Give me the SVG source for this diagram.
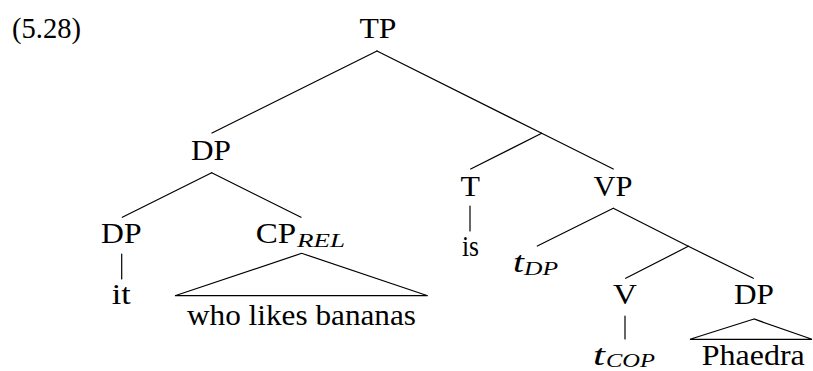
<svg xmlns="http://www.w3.org/2000/svg" width="813" height="371" viewBox="0 0 813 371" font-family="'Liberation Serif','DejaVu Serif',serif">
<style>
text{font-family:"Liberation Serif","DejaVu Serif",serif;font-size:28.5px;fill:#000}
.c{text-anchor:middle}
.i{font-style:italic}
.s{font-size:19px;font-style:italic}
.e{stroke:#000;stroke-width:1.2;fill:none;stroke-linecap:round}
</style>
<rect width="813" height="371" fill="#fff"/>
<text id="exnum" x="12" y="38" textLength="69" lengthAdjust="spacingAndGlyphs">(5.28)</text>
<g id="connectors" class="e">
<line x1="377" y1="51" x2="212" y2="133"/>
<line x1="377" y1="51" x2="541.7" y2="133.3"/>
<line x1="541.7" y1="133.3" x2="470.7" y2="169"/>
<line x1="541.7" y1="133.3" x2="613.3" y2="169"/>
<line x1="211.7" y1="172.7" x2="122.3" y2="217.3"/>
<line x1="211.7" y1="172.7" x2="301" y2="217.3"/>
<line x1="470" y1="206" x2="470" y2="231"/>
<line x1="613.3" y1="208.3" x2="537.3" y2="246"/>
<line x1="613.3" y1="208.3" x2="688.3" y2="246.3"/>
<line x1="688.3" y1="246.3" x2="625.7" y2="278.3"/>
<line x1="688.3" y1="246.3" x2="753.3" y2="278.3"/>
<line x1="121.7" y1="254" x2="121.7" y2="279"/>
<line x1="625" y1="316" x2="625" y2="339"/>
<polygon points="301.7,253.3 175,295.7 427.7,295.7"/>
<polygon points="754,319 690,339.3 812,339.3"/>
</g>
<g id="TP"><text class="c" x="378" y="38" textLength="37" lengthAdjust="spacingAndGlyphs">TP</text></g>
<g id="DP1"><text class="c" x="211" y="160" textLength="40" lengthAdjust="spacingAndGlyphs">DP</text></g>
<g id="T"><text class="c" x="470.3" y="196" textLength="19.5" lengthAdjust="spacingAndGlyphs">T</text></g>
<g id="VP"><text class="c" x="613" y="196" textLength="39" lengthAdjust="spacingAndGlyphs">VP</text></g>
<g id="DP2"><text class="c" x="121.3" y="243" textLength="40.5" lengthAdjust="spacingAndGlyphs">DP</text></g>
<g id="CPREL"><text x="255.7" y="243" textLength="40.5" lengthAdjust="spacingAndGlyphs">CP</text><text class="s" x="297" y="247" textLength="48" lengthAdjust="spacingAndGlyphs">REL</text></g>
<g id="is"><text class="c" x="470.5" y="256" textLength="17" lengthAdjust="spacingAndGlyphs">is</text></g>
<g id="it"><text class="c" x="121.3" y="304" textLength="19" lengthAdjust="spacingAndGlyphs">it</text></g>
<g id="tDP"><text class="i" x="513" y="272" textLength="11" lengthAdjust="spacingAndGlyphs">t</text><text class="s" x="524" y="275" textLength="34" lengthAdjust="spacingAndGlyphs">DP</text></g>
<g id="V"><text class="c" x="625" y="304" textLength="24" lengthAdjust="spacingAndGlyphs">V</text></g>
<g id="DP3"><text class="c" x="754" y="304" textLength="40" lengthAdjust="spacingAndGlyphs">DP</text></g>
<g id="whoLikesBananas"><text class="c" x="301.5" y="325" textLength="229" lengthAdjust="spacingAndGlyphs">who likes bananas</text></g>
<g id="tCOP"><text class="i" x="593" y="365" textLength="12" lengthAdjust="spacingAndGlyphs">t</text><text class="s" x="606" y="367" textLength="49" lengthAdjust="spacingAndGlyphs">COP</text></g>
<g id="Phaedra"><text class="c" x="753.3" y="365" textLength="103" lengthAdjust="spacingAndGlyphs">Phaedra</text></g>
</svg>
